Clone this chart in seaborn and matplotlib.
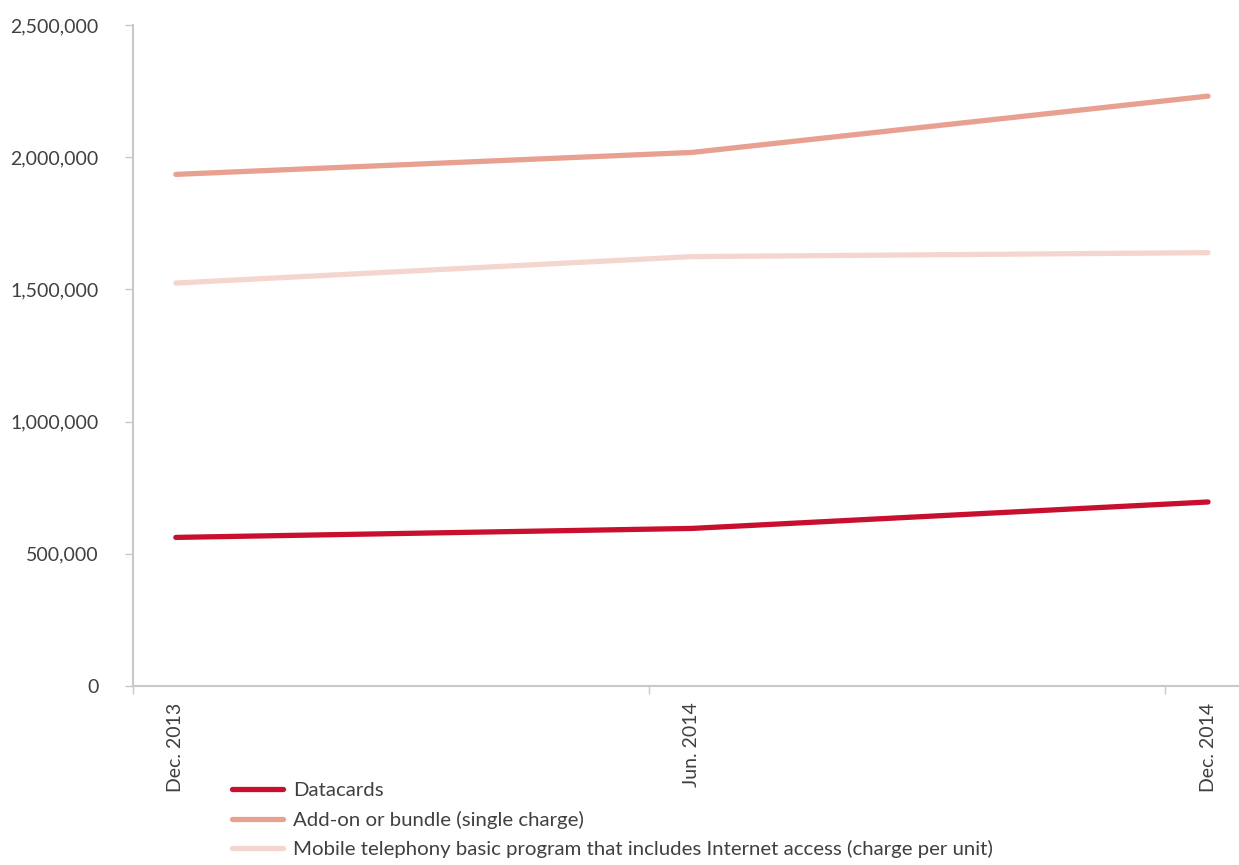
import numpy as np
import pandas as pd
import seaborn as sns
import matplotlib.pyplot as plt
from matplotlib.ticker import FuncFormatter, FixedLocator

periods = ["Dec. 2013", "Jun. 2014", "Dec. 2014"]
datacards = [562000, 596000, 696000]
addon_bundle = [1935000, 2018000, 2231000]
mobile_basic = [1524000, 1624000, 1639000]

series_names = [
    "Datacards",
    "Add-on or bundle (single charge)",
    "Mobile telephony basic program that includes Internet access (charge per unit)",
]
series_colors = ["#C8102E", "#E8A090", "#F5D6CF"]

sns.set_theme(style="white")
plt.rcParams["font.family"] = ["Lato", "DejaVu Sans"]

df = pd.DataFrame({
    "pos": list(range(len(periods))) * 3,
    "value": datacards + addon_bundle + mobile_basic,
    "series": [n for n in series_names for _ in periods],
})

fig = plt.figure(figsize=(12.39, 8.65), dpi=100)
ax = fig.add_axes([133 / 1239, (865 - 686) / 865, (1239 - 133) / 1239, (686 - 25) / 865])

sns.lineplot(data=df, x="pos", y="value", hue="series", hue_order=series_names,
             palette=series_colors, linewidth=3.8, ax=ax, legend=False)

ax.set_xlim(-0.083, 2.06)
ax.set_ylim(0, 2500000)
ax.set_yticks(np.arange(0, 2500001, 500000))
ax.yaxis.set_major_formatter(FuncFormatter(lambda v, p: f"{int(v):,}"))

ax.set_xticks(range(len(periods)))
ax.set_xticklabels(periods, rotation=90, va="top", ha="center")
ax.xaxis.set_minor_locator(FixedLocator([-0.083, 0.917, 1.917]))
ax.tick_params(axis="x", which="major", length=0, pad=12, labelsize=14, colors="#404040")
ax.tick_params(axis="x", which="minor", length=6, width=1, color="#c8c8c8", direction="out", bottom=True)
ax.tick_params(axis="y", which="major", length=6, width=1, color="#c8c8c8", direction="out", left=True,
               labelsize=14, labelcolor="#404040", pad=19)

for side in ["top", "right"]:
    ax.spines[side].set_visible(False)
for side in ["left", "bottom"]:
    ax.spines[side].set_color("#c8c8c8")
    ax.spines[side].set_linewidth(1.5)

ax.set_xlabel("")
ax.set_ylabel("")

handles = [plt.Line2D([], [], color=c, linewidth=3.8) for c in series_colors]
fig.legend(handles, series_names, loc="upper left", bbox_to_anchor=(224 / 1239, 1 - 774 / 865),
           frameon=False, fontsize=14.7, handlelength=2.5, handletextpad=0.5,
           labelspacing=0.55, borderaxespad=0, labelcolor="#404040")

fig.savefig("out.png", dpi=100)
